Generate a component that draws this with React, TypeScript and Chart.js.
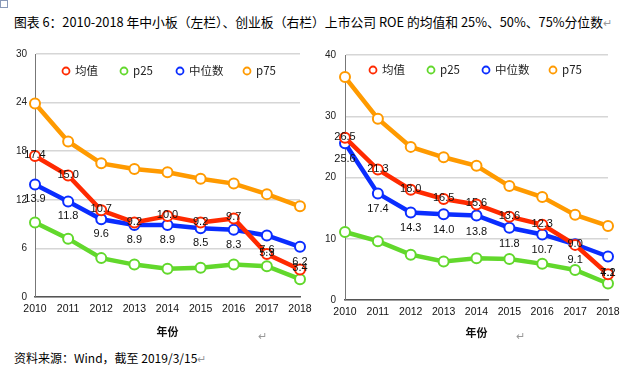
import React, { useEffect, useRef } from "react";
import { Chart, registerables } from "chart.js";
Chart.register(...registerables);

const years = ["2010", "2011", "2012", "2013", "2014", "2015", "2016", "2017", "2018"];
const seriesNames = ["均值", "p25", "中位数", "p75"];
const seriesColors = ["#ff2a00", "#62d82c", "#0a2dff", "#ff9a00"];

// 中小板 (left)
const smeMean = [17.4, 15.0, 10.7, 9.2, 10.0, 9.2, 9.7, 5.3, 3.4];
const smeP25 = [9.2, 7.2, 4.8, 4.0, 3.5, 3.6, 4.0, 3.8, 2.2];
const smeMedian = [13.9, 11.8, 9.6, 8.9, 8.9, 8.5, 8.3, 7.6, 6.2];
const smeP75 = [23.9, 19.2, 16.5, 15.8, 15.4, 14.6, 14.0, 12.7, 11.2];
const smeAxisMax = 30;
const smeAxisStep = 6;

// 创业板 (right)
const gemMean = [26.5, 21.3, 18.0, 16.5, 15.6, 13.6, 12.3, 9.0, 4.2];
const gemP25 = [11.1, 9.6, 7.4, 6.3, 6.8, 6.7, 5.9, 4.9, 2.7];
const gemMedian = [25.6, 17.4, 14.3, 14.0, 13.8, 11.8, 10.7, 9.1, 7.1];
const gemP75 = [36.4, 29.6, 25.0, 23.3, 21.9, 18.6, 16.8, 13.9, 12.1];
const gemAxisMax = 40;
const gemAxisStep = 10;

const xAxisTitle = "年份";
const titleText = "图表 6：2010-2018 年中小板（左栏）、创业板（右栏）上市公司 ROE 的均值和 25%、50%、75%分位数";
const sourceText = "资料来源：Wind，截至 2019/3/15";

const NUM_FONT = '"Liberation Sans Narrow", "Liberation Sans", Arial, sans-serif';
const CJK_FONT = '"Noto Sans CJK SC", "Liberation Sans", sans-serif';

type Cfg = {
  series: number[][];
  max: number;
  step: number;
  yWidth: number;
  xHeight: number;
  pad: { top: number; right: number };
  yPad: number;
  titlePadBottom: number;
  legendX: number[];
  legendDY: number;
  medianDY: number;
};

function makeChart(canvas: HTMLCanvasElement, cfg: Cfg) {
  const overlay = {
    id: "overlay",
    afterDatasetsDraw(chart: any) {
      const ctx = chart.ctx;
      const area = chart.chartArea;
      ctx.save();
      ctx.font = "11px " + NUM_FONT;
      ctx.fillStyle = "#111";
      ctx.textAlign = "center";
      ctx.textBaseline = "middle";
      const meanMeta = chart.getDatasetMeta(0);
      meanMeta.data.forEach((pt: any, i: number) => {
        ctx.fillText(cfg.series[0][i].toFixed(1), pt.x, pt.y - 1);
      });
      const medMeta = chart.getDatasetMeta(2);
      medMeta.data.forEach((pt: any, i: number) => {
        ctx.fillText(cfg.series[2][i].toFixed(1), pt.x, pt.y + cfg.medianDY);
      });
      const ly = area.top + cfg.legendDY;
      seriesNames.forEach((name, i) => {
        const cx = area.left + cfg.legendX[i];
        ctx.beginPath();
        ctx.arc(cx, ly, 3.5, 0, Math.PI * 2);
        ctx.fillStyle = "#fff";
        ctx.fill();
        ctx.lineWidth = 1.8;
        ctx.strokeStyle = seriesColors[i];
        ctx.stroke();
        ctx.fillStyle = "#222";
        ctx.textAlign = "left";
        ctx.textBaseline = "middle";
        ctx.font = "11.5px " + CJK_FONT;
        ctx.fillText(name, cx + 9, ly);
      });
      ctx.restore();
    },
  };

  return new Chart(canvas, {
    type: "line",
    data: {
      labels: years,
      datasets: cfg.series.map((vals, i) => ({
        label: seriesNames[i],
        data: vals,
        borderColor: seriesColors[i],
        backgroundColor: "#ffffff",
        borderWidth: 4.5,
        pointRadius: 5,
        pointBorderWidth: 2,
        pointBackgroundColor: "#ffffff",
        pointBorderColor: seriesColors[i],
        tension: 0,
        fill: false,
      })),
    },
    options: {
      responsive: false,
      animation: false,
      devicePixelRatio: 1,
      layout: { padding: { top: cfg.pad.top, right: cfg.pad.right, left: 0, bottom: 0 } },
      plugins: { legend: { display: false }, tooltip: { enabled: false } },
      scales: {
        x: {
          offset: false,
          grid: { display: false, drawTicks: false },
          border: { display: true, color: "#555", width: 1.5 },
          ticks: { color: "#111", padding: 6, font: { size: 10.5, family: NUM_FONT }, maxRotation: 0 },
          title: {
            display: true,
            text: xAxisTitle,
            color: "#111",
            font: { size: 11, weight: "bold", family: CJK_FONT },
            padding: { top: 0, bottom: cfg.titlePadBottom },
          },
          afterFit: (s: any) => {
            s.height = cfg.xHeight;
          },
        },
        y: {
          min: 0,
          max: cfg.max,
          grid: { color: "#d6d6d6", lineWidth: 1.5, drawTicks: false },
          border: { display: true, color: "#777", width: 1 },
          ticks: { stepSize: cfg.step, color: "#222", padding: cfg.yPad, font: { size: 10, family: NUM_FONT } },
          afterFit: (s: any) => {
            s.width = cfg.yWidth;
          },
        },
      },
    },
    plugins: [overlay],
  } as any);
}

function ChartBox(props: { cfg: Cfg; left: number; top: number; width: number; height: number }) {
  const ref = useRef<HTMLCanvasElement>(null);
  useEffect(() => {
    if (!ref.current) return;
    const c = makeChart(ref.current, props.cfg);
    return () => c.destroy();
  }, []);
  return (
    <canvas
      ref={ref}
      width={props.width}
      height={props.height}
      style={{ position: "absolute", left: props.left, top: props.top, width: props.width, height: props.height }}
    />
  );
}

const leftCfg: Cfg = {
  series: [smeMean, smeP25, smeMedian, smeP75],
  max: smeAxisMax,
  step: smeAxisStep,
  yWidth: 35,
  xHeight: 43,
  pad: { top: 13, right: 18 },
  yPad: 8,
  titlePadBottom: 1.5,
  legendX: [31, 89, 145, 212],
  legendDY: 17,
  medianDY: 15,
};

const rightCfg: Cfg = {
  series: [gemMean, gemP25, gemMedian, gemP75],
  max: gemAxisMax,
  step: gemAxisStep,
  yWidth: 27,
  xHeight: 40,
  pad: { top: 8, right: 20 },
  yPad: 9,
  titlePadBottom: 0.5,
  legendX: [28, 86, 141, 208],
  legendDY: 15,
  medianDY: 16,
};

const markStyle: React.CSSProperties = { position: "absolute", color: "#999", fontSize: 11, fontFamily: CJK_FONT };

export default function App() {
  return (
    <div style={{ position: "fixed", left: 0, top: 0, width: 628, height: 374, background: "#fff", overflow: "hidden" }}>
      <div style={{ position: "absolute", left: 0, top: 0, width: 8, height: 8, border: "1px solid #8a9ab8", boxSizing: "border-box" }} />
      <div
        style={{
          position: "absolute",
          left: 14,
          top: 13,
          fontSize: 12.8,
          lineHeight: "18px",
          fontFamily: CJK_FONT,
          color: "#000",
          whiteSpace: "nowrap",
        }}
      >
        {titleText}
        <span style={{ color: "#999", fontSize: 11 }}>↵</span>
      </div>
      <ChartBox cfg={leftCfg} left={0} top={40} width={318} height={300} />
      <ChartBox cfg={rightCfg} left={318} top={40} width={310} height={300} />
      <div style={{ ...markStyle, left: 258, top: 327 }}>↵</div>
      <div style={{ ...markStyle, left: 516, top: 327 }}>↵</div>
      <div
        style={{
          position: "absolute",
          left: 14,
          top: 349,
          fontSize: 12,
          lineHeight: "18px",
          fontFamily: CJK_FONT,
          color: "#000",
          whiteSpace: "nowrap",
        }}
      >
        {sourceText}
        <span style={{ color: "#999", fontSize: 11 }}>↵</span>
      </div>
    </div>
  );
}
